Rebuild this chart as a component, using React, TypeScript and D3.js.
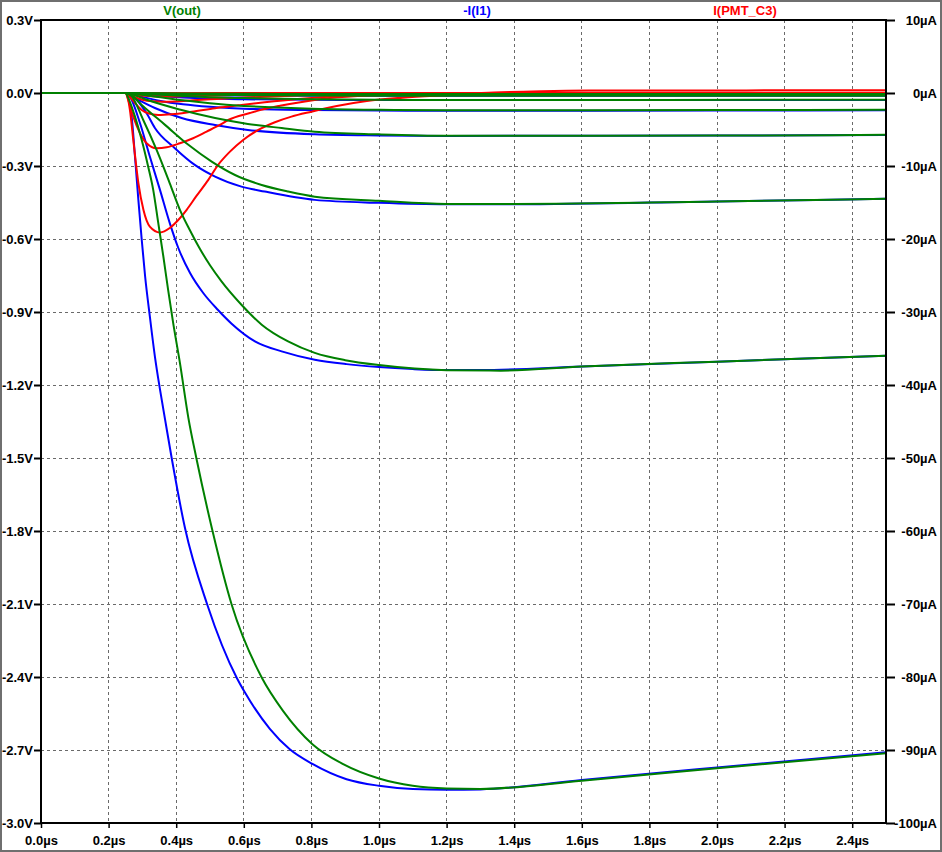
import React, { useEffect, useRef } from "react";
import * as d3 from "d3";

type P = [number, number];

// ---- tick labels ----
const timeTicks = [0, 0.2, 0.4, 0.6, 0.8, 1.0, 1.2, 1.4, 1.6, 1.8, 2.0, 2.2, 2.4];
const timeLabels = ["0.0µs", "0.2µs", "0.4µs", "0.6µs", "0.8µs", "1.0µs", "1.2µs", "1.4µs", "1.6µs", "1.8µs", "2.0µs", "2.2µs", "2.4µs"];
const voltTicks = [0.3, 0, -0.3, -0.6, -0.9, -1.2, -1.5, -1.8, -2.1, -2.4, -2.7, -3.0];
const voltLabels = ["0.3V", "0.0V", "-0.3V", "-0.6V", "-0.9V", "-1.2V", "-1.5V", "-1.8V", "-2.1V", "-2.4V", "-2.7V", "-3.0V"];
const ampTicks = [10, 0, -10, -20, -30, -40, -50, -60, -70, -80, -90, -100];
const ampLabels = ["10µA", "0µA", "-10µA", "-20µA", "-30µA", "-40µA", "-50µA", "-60µA", "-70µA", "-80µA", "-90µA", "-100µA"];
const gridTimes = [0.2, 0.4, 0.6, 0.8, 1.0, 1.2, 1.4, 1.6, 1.8, 2.0, 2.2, 2.4];
const gridVolts = [0, -0.3, -0.6, -0.9, -1.2, -1.5, -1.8, -2.1, -2.4, -2.7];

// ---- -I(I1) steps, µA (right axis) ----
const blue1: P[] = [[0,0],[0.25,0],[0.268,-3.2],[0.278,-8.7],[0.288,-14.6],[0.298,-20.1],[0.308,-25.1],[0.322,-30.6],[0.337,-36.1],[0.352,-40.6],[0.367,-44.7],[0.387,-50.1],[0.426,-59.6],[0.492,-70.1],[0.579,-80.1],[0.603,-82.1],[0.677,-87.1],[0.736,-89.9],[0.803,-91.9],[0.904,-94.0],[1.0,-94.9],[1.1,-95.35],[1.2,-95.45],[1.3,-95.4],[1.6,-94.1],[2.0,-92.4],[2.5,-90.3]];
const blue2: P[] = [[0,0],[0.25,0],[0.263,-0.5],[0.293,-4.14],[0.322,-8.71],[0.352,-13.27],[0.381,-17.82],[0.406,-21.2],[0.441,-24.66],[0.480,-27.4],[0.523,-29.69],[0.564,-31.6],[0.633,-34.02],[0.712,-35.39],[0.810,-36.53],[0.904,-37.14],[1.0,-37.55],[1.1,-37.82],[1.2,-37.96],[1.3,-37.96],[1.6,-37.47],[2.0,-36.8],[2.5,-35.98]];
const blue3: P[] = [[0,0],[0.25,0],[0.273,-0.5],[0.3125,-2.78],[0.337,-4.79],[0.396,-7.56],[0.455,-9.85],[0.515,-11.45],[0.593,-12.82],[0.662,-13.5],[0.810,-14.64],[1.0,-15.05],[1.2,-15.25],[1.4,-15.25],[2.0,-14.85],[2.5,-14.5]];
const blue4: P[] = [[0,0],[0.25,0],[0.278,-0.68],[0.337,-2.05],[0.416,-3.42],[0.515,-4.38],[0.612,-5.06],[0.810,-5.65],[1.0,-5.81],[1.2,-5.88],[2.0,-5.83],[2.5,-5.75]];
const blue5: P[] = [[0,0],[0.25,0],[0.30,-0.55],[0.35,-1.05],[0.42,-1.55],[0.5,-1.9],[0.6,-2.15],[0.8,-2.34],[1.0,-2.41],[1.2,-2.44],[2.0,-2.4],[2.5,-2.36]];
const blue6: P[] = [[0,0],[0.25,0],[0.3,-0.22],[0.35,-0.42],[0.42,-0.62],[0.5,-0.76],[0.6,-0.86],[0.8,-0.935],[1.0,-0.965],[1.2,-0.975],[2.5,-0.945]];
const blue7: P[] = [[0,0],[0.25,0],[0.3,-0.09],[0.35,-0.17],[0.42,-0.25],[0.5,-0.3],[0.6,-0.34],[0.8,-0.37],[1.2,-0.39],[2.5,-0.38]];
const blue8: P[] = [[0,0],[0.25,0],[0.3,-0.035],[0.35,-0.07],[0.42,-0.1],[0.5,-0.12],[0.6,-0.135],[0.8,-0.15],[1.2,-0.156],[2.5,-0.152]];

// ---- V(out) steps, V (left axis) ----
const green1: P[] = [[0,0],[0.25,0],[0.258,-0.02],[0.278,-0.097],[0.298,-0.193],[0.317,-0.302],[0.332,-0.398],[0.347,-0.535],[0.362,-0.672],[0.376,-0.808],[0.391,-0.945],[0.411,-1.109],[0.436,-1.335],[0.460,-1.503],[0.508,-1.803],[0.564,-2.102],[0.653,-2.402],[0.716,-2.539],[0.803,-2.676],[0.894,-2.758],[1.0,-2.817],[1.1,-2.847],[1.2,-2.858],[1.3,-2.860],[1.6,-2.826],[2.0,-2.775],[2.5,-2.713]];
const green2: P[] = [[0,0],[0.25,0],[0.265,-0.008],[0.3025,-0.111],[0.342,-0.234],[0.381,-0.371],[0.411,-0.480],[0.441,-0.565],[0.470,-0.640],[0.500,-0.708],[0.534,-0.774],[0.593,-0.870],[0.653,-0.952],[0.731,-1.021],[0.810,-1.068],[0.9,-1.098],[1.0,-1.118],[1.2,-1.139],[1.36,-1.141],[1.6,-1.124],[2.0,-1.104],[2.5,-1.080]];
const green3: P[] = [[0,0],[0.25,0],[0.27,-0.012],[0.298,-0.049],[0.367,-0.131],[0.436,-0.213],[0.505,-0.282],[0.574,-0.337],[0.653,-0.378],[0.731,-0.405],[0.810,-0.426],[1.0,-0.443],[1.2,-0.456],[1.4,-0.456],[2.0,-0.446],[2.5,-0.435]];
const green4: P[] = [[0,0],[0.25,0],[0.28,-0.01],[0.316,-0.029],[0.416,-0.070],[0.515,-0.103],[0.612,-0.127],[0.712,-0.144],[0.810,-0.159],[1.0,-0.170],[1.2,-0.176],[2.0,-0.175],[2.5,-0.172]];
const green5: P[] = [[0,0],[0.25,0],[0.32,-0.011],[0.42,-0.03],[0.5,-0.042],[0.6,-0.053],[0.7,-0.06],[0.8,-0.065],[1.0,-0.069],[1.2,-0.071],[2.0,-0.070],[2.5,-0.069]];
const green6: P[] = [[0,0],[0.25,0],[0.32,-0.0045],[0.42,-0.012],[0.5,-0.017],[0.6,-0.021],[0.8,-0.026],[1.0,-0.028],[1.2,-0.0285],[2.5,-0.0277]];
const green7: P[] = [[0,0],[0.25,0],[0.32,-0.002],[0.42,-0.005],[0.5,-0.007],[0.6,-0.0085],[0.8,-0.0105],[1.2,-0.0115],[2.5,-0.011]];
const green8: P[] = [[0,0],[0.25,0],[0.42,-0.002],[0.6,-0.0034],[0.8,-0.0042],[1.2,-0.0046],[2.5,-0.0044]];

// ---- I(PMT_C3) steps, µA (right axis) ----
const red1: P[] = [[0,0],[0.25,0],[0.263,-2.3],[0.273,-6.4],[0.288,-12.3],[0.303,-16.0],[0.322,-18.3],[0.352,-19.1],[0.381,-18.5],[0.406,-17.4],[0.431,-16.0],[0.460,-14.1],[0.495,-11.9],[0.524,-9.85],[0.559,-8.03],[0.598,-6.43],[0.643,-5.06],[0.692,-4.01],[0.741,-3.24],[0.800,-2.56],[0.875,-1.78],[0.964,-1.09],[1.07,-0.64],[1.21,-0.27],[1.34,0.07],[1.48,0.25],[1.62,0.33],[2.5,0.37]];
const red2: P[] = [[0,0],[0.25,0],[0.258,-0.96],[0.273,-3.24],[0.293,-5.51],[0.3125,-6.88],[0.342,-7.56],[0.372,-7.43],[0.411,-6.88],[0.450,-6.20],[0.490,-5.29],[0.529,-4.38],[0.554,-3.7],[0.618,-2.75],[0.648,-2.35],[0.707,-1.75],[0.781,-1.15],[0.855,-0.7],[1.0,-0.3],[1.21,-0.07],[1.42,0.01],[1.7,0.03],[2.5,0.04]];
const red3: P[] = [[0,0],[0.25,0],[0.263,-0.55],[0.278,-1.37],[0.298,-2.33],[0.317,-2.78],[0.347,-3.01],[0.387,-2.91],[0.446,-2.56],[0.515,-2.09],[0.593,-1.64],[0.662,-1.27],[0.760,-0.82],[0.810,-0.64],[0.914,-0.34],[1.12,-0.11],[1.5,0.0],[2.5,0.01]];
const red4: P[] = [[0,0],[0.25,0],[0.265,-0.3],[0.28,-0.6],[0.30,-0.92],[0.33,-1.14],[0.36,-1.2],[0.40,-1.15],[0.45,-1.0],[0.52,-0.82],[0.60,-0.63],[0.70,-0.43],[0.80,-0.27],[0.95,-0.12],[1.15,-0.03],[1.5,0.0],[2.5,0.0]];
const red5: P[] = [[0,0],[0.25,0],[0.28,-0.24],[0.33,-0.45],[0.36,-0.48],[0.45,-0.4],[0.6,-0.25],[0.8,-0.1],[1.1,-0.01],[2.5,0]];
const red6: P[] = [[0,0],[0.25,0],[0.28,-0.1],[0.36,-0.19],[0.45,-0.16],[0.6,-0.1],[0.8,-0.04],[1.1,0],[2.5,0]];
const red7: P[] = [[0,0],[0.25,0],[0.28,-0.04],[0.36,-0.077],[0.45,-0.065],[0.6,-0.04],[0.8,-0.015],[1.1,0],[2.5,0]];
const red8: P[] = [[0,0],[0.25,0],[0.28,-0.016],[0.36,-0.03],[0.45,-0.026],[0.6,-0.016],[0.8,-0.006],[1.1,0],[2.5,0]];

const blueSteps = [blue1, blue2, blue3, blue4, blue5, blue6, blue7, blue8];
const greenSteps = [green1, green2, green3, green4, green5, green6, green7, green8];
const redSteps = [red1, red2, red3, red4, red5, red6, red7, red8];

const GREEN = "#008000";
const BLUE = "#0000ff";
const RED = "#ff0000";
const FONT = "'Liberation Sans', Arial, sans-serif";

const L = 41, R = 886, T = 20, B = 823;
const x = d3.scaleLinear().domain([0, 2.5]).range([L, R]);
const yV = d3.scaleLinear().domain([-3.0, 0.3]).range([B, T]);
const yI = d3.scaleLinear().domain([-100, 10]).range([B, T]);

const lineV = d3.line<P>().x((d) => x(d[0])).y((d) => yV(d[1])).curve(d3.curveMonotoneX);
const lineI = d3.line<P>().x((d) => x(d[0])).y((d) => yI(d[1])).curve(d3.curveMonotoneX);

export default function App() {
  const leftRef = useRef<SVGGElement>(null);
  const rightRef = useRef<SVGGElement>(null);
  const bottomRef = useRef<SVGGElement>(null);

  useEffect(() => {
    const style = (g: d3.Selection<SVGGElement, unknown, null, undefined>) => {
      g.select(".domain").remove();
      g.attr("font-size", 13).attr("font-family", FONT).attr("font-weight", "bold");
      g.selectAll("line").attr("stroke", "#000").attr("stroke-width", 2);
      g.selectAll("text").attr("fill", "#000");
    };
    const gl = d3.select(leftRef.current!);
    gl.call(
      d3.axisLeft(yV).tickValues(voltTicks).tickSize(7).tickPadding(1)
        .tickFormat((_d, i) => voltLabels[i])
    );
    style(gl);
    gl.selectAll("text").attr("dy", "0.36em");

    const gr = d3.select(rightRef.current!);
    gr.call(
      d3.axisRight(yI).tickValues(ampTicks).tickSize(9).tickPadding(2)
        .tickFormat((_d, i) => ampLabels[i])
    );
    style(gr);
    gr.selectAll("text").attr("text-anchor", "end").attr("x", 937 - R).attr("dy", "0.36em");

    const gb = d3.select(bottomRef.current!);
    gb.call(
      d3.axisBottom(x).tickValues(timeTicks).tickSize(5).tickPadding(8)
        .tickFormat((_d, i) => timeLabels[i])
    );
    style(gb);
    gb.selectAll("line").attr("stroke-width", 1.5);
  }, []);

  return (
    <svg width={942} height={852} style={{ position: "absolute", left: 0, top: 0, background: "#fff" }}>
      <rect x={0} y={0} width={942} height={852} fill="#fff" />
      <rect x={1} y={1} width={940} height={850} fill="none" stroke="#6f6f6f" strokeWidth={2} />
      <defs>
        <clipPath id="plot">
          <rect x={L} y={T} width={R - L} height={B - T} />
        </clipPath>
      </defs>
      {/* grid */}
      <g stroke="#6a6a6a" strokeWidth={1} strokeDasharray="3,3" shapeRendering="crispEdges">
        {gridTimes.map((t) => (
          <line key={"gx" + t} x1={x(t)} x2={x(t)} y1={T} y2={B} />
        ))}
        {gridVolts.map((v) => (
          <line key={"gy" + v} x1={L} x2={R} y1={yV(v)} y2={yV(v)} />
        ))}
      </g>
      {/* traces: -I(I1), then I(PMT_C3), with V(out) on top */}
      <g clipPath="url(#plot)" fill="none" strokeWidth={2} strokeLinejoin="round">
        {blueSteps.map((s, i) => (
          <path key={"b" + i} d={lineI(s) || ""} stroke={BLUE} />
        ))}
        {redSteps.map((s, i) => (
          <path key={"r" + i} d={lineI(s) || ""} stroke={RED} />
        ))}
        {greenSteps.map((s, i) => (
          <path key={"g" + i} d={lineV(s) || ""} stroke={GREEN} />
        ))}
      </g>
      {/* frame */}
      <rect x={L} y={T} width={R - L} height={B - T} fill="none" stroke="#000" strokeWidth={2} />
      <g ref={leftRef} transform={`translate(${L},0)`} />
      <g ref={rightRef} transform={`translate(${R},0)`} />
      <g ref={bottomRef} transform={`translate(0,${B})`} />
      {/* trace titles */}
      <g fontFamily={FONT} fontWeight="bold" fontSize={13} textAnchor="middle">
        <text x={182} y={15} fill={GREEN}>V(out)</text>
        <text x={477} y={15} fill={BLUE}>-I(I1)</text>
        <text x={745} y={15} fill={RED}>I(PMT_C3)</text>
      </g>
    </svg>
  );
}
